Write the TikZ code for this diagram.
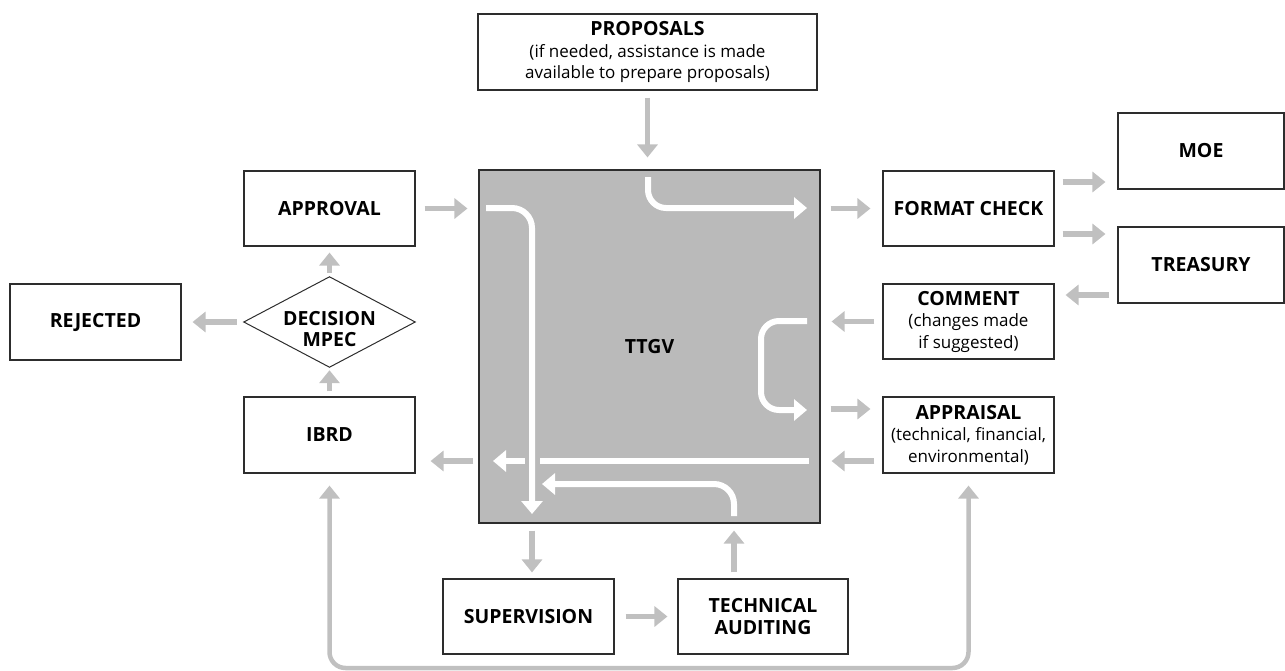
\documentclass[tikz,border=0pt]{standalone}
\usepackage{fontspec}
\setmainfont{Open Sans}
\usetikzlibrary{arrows.meta}
\definecolor{agray}{RGB}{192,192,192}
\definecolor{fgray}{RGB}{186,186,186}
\definecolor{bord}{RGB}{45,45,45}
\newcommand\boxtitle{\fontsize{19.5}{21.5}\selectfont\bfseries}
\newcommand\boxsub{\fontsize{17}{21}\selectfont\mdseries}
\begin{document}
\begin{tikzpicture}[x=1pt,y=-1pt,
  box/.style={draw=bord, line width=1.1pt, fill=white, minimum width=171pt, minimum height=76pt,
    inner sep=0pt, align=center, font=\boxtitle},
  garrow/.style={draw=agray, line width=5.5pt, -{Triangle[width=20pt,length=13pt]}},
  loopline/.style={draw=agray, line width=4.5pt, {Triangle[width=20pt,length=13pt]}-{Triangle[width=20pt,length=13pt]}, rounded corners=16pt},
  warrow/.style={draw=white, line width=6pt, -{Triangle[width=21pt,length=13pt]}},
]
\useasboundingbox (0,0) rectangle (1285,670);

% nodes
\node[box, minimum width=339pt] (proposals) at (647.5,52)
  {PROPOSALS\\\boxsub (if needed, assistance is made\\\boxsub available to prepare proposals)};
\node[box, fill=fgray, minimum width=341pt, minimum height=353pt] (ttgv) at (649.5,346.5) {TTGV};
\node[box, minimum height=75pt] (approval) at (329.5,208.5) {APPROVAL};
\node[minimum width=171pt, minimum height=90pt, inner sep=0pt] (dec) at (329.5,322) {};
\draw[bord, line width=1pt] (dec.north) -- (dec.east) -- (dec.south) -- (dec.west) -- cycle;
\node[align=center, font=\boxtitle, yshift=-7pt] (dectext) at (dec.center) {DECISION\\MPEC};
\node[box] (rejected) at (95.5,322) {REJECTED};
\node[box] (ibrd) at (329.5,435) {IBRD};
\node[box, minimum height=75pt] (fc) at (968.5,208.5) {FORMAT CHECK};
\node[box, minimum height=75pt] (comment) at (968.5,321.5) {COMMENT\\\boxsub (changes made\\\boxsub if suggested)};
\node[box] (appraisal) at (968.5,435) {APPRAISAL\\\boxsub (technical, financial,\\\boxsub environmental)};
\node[box, minimum width=166pt] (moe) at (1201,151) {MOE};
\node[box, minimum width=166pt] (treasury) at (1201,265) {TREASURY};
\node[box, minimum height=75pt] (sup) at (528.5,616.5) {SUPERVISION};
\node[box, minimum width=170pt, minimum height=75pt] (ta) at (763,616.5) {TECHNICAL\\AUDITING};

% gray connectors
\draw[garrow, shorten <=7pt, shorten >=12pt] (proposals.south) -- (proposals.south |- ttgv.north);
\draw[garrow, shorten <=9pt, shorten >=11pt] (approval.east) -- (approval.east -| ttgv.west);
\draw[garrow, shorten <=10pt, shorten >=12pt] (fc.west -| ttgv.east) -- (fc.west);
\draw[garrow, shorten <=8pt, shorten >=12pt] ([yshift=26.5pt]fc.east) -- ([yshift=26.5pt]fc.east -| moe.west);
\draw[garrow, shorten <=8pt, shorten >=12pt] ([yshift=-25.5pt]fc.east) -- ([yshift=-25.5pt]fc.east -| treasury.west);
\draw[garrow, shorten <=8pt, shorten >=11pt] ([yshift=26.5pt]comment.east -| treasury.west) -- ([yshift=26.5pt]comment.east);
\draw[garrow, shorten <=8pt, shorten >=11pt] (comment.west) -- (comment.west -| ttgv.east);
\draw[garrow, shorten <=10pt, shorten >=12pt] ([yshift=26pt]appraisal.west -| ttgv.east) -- ([yshift=26pt]appraisal.west);
\draw[garrow, shorten <=8pt, shorten >=11pt] ([yshift=-26pt]appraisal.west) -- ([yshift=-26pt]appraisal.west -| ttgv.east);
\draw[garrow, shorten <=5pt, shorten >=15pt] ([yshift=-26pt]ibrd.east -| ttgv.west) -- ([yshift=-26pt]ibrd.east);
\draw[garrow, shorten <=5pt, shorten >=3pt] (ibrd.north) -- (dec.south);
\draw[garrow, shorten <=4pt, shorten >=6pt] (dec.north) -- (approval.south);
\draw[garrow, shorten <=7pt, shorten >=11pt] (dec.west) -- (rejected.east);
\draw[garrow, shorten <=7pt, shorten >=6pt] ([xshift=3.5pt]sup.north |- ttgv.south) -- ([xshift=3.5pt]sup.north);
\draw[garrow, shorten <=6pt, shorten >=7pt] ([xshift=-29pt]ta.north) -- ([xshift=-29pt]ta.north |- ttgv.south);
\draw[garrow, shorten <=11pt, shorten >=10pt] (sup.east) -- (ta.west);
\coordinate (loopy) at (0,668);
\draw[loopline, shorten <=12pt, shorten >=12pt] (ibrd.south) -- (ibrd.south |- loopy) -- (appraisal.south |- loopy) -- (appraisal.south);

% white arrows inside TTGV
\coordinate (w1s) at (486,208);
\coordinate (w1e) at (532,514);
\coordinate (w2s) at (648,177);
\coordinate (w2e) at (807,208);
\coordinate (w3s) at (807,321);
\coordinate (w3c) at (761,365);
\coordinate (w3e) at (807,410);
\coordinate (w4s) at (809,461);
\coordinate (w4e) at (493,461);
\coordinate (w5s) at (734,516);
\coordinate (w5e) at (542,484);
\draw[warrow] (w4s) -- (w4e);
\draw[fgray, line width=15pt] (532,446) -- (532,476);
\draw[warrow, rounded corners=20pt] (w1s) -- (w1e |- w1s) -- (w1e);
\draw[warrow, rounded corners=18pt] (w2s) -- (w2s |- w2e) -- (w2e);
\draw[warrow, rounded corners=18pt] (w3s) -- (w3c |- w3s) -- (w3c |- w3e) -- (w3e);
\draw[warrow, rounded corners=20pt] (w5s) -- (w5s |- w5e) -- (w5e);
\end{tikzpicture}
\end{document}
